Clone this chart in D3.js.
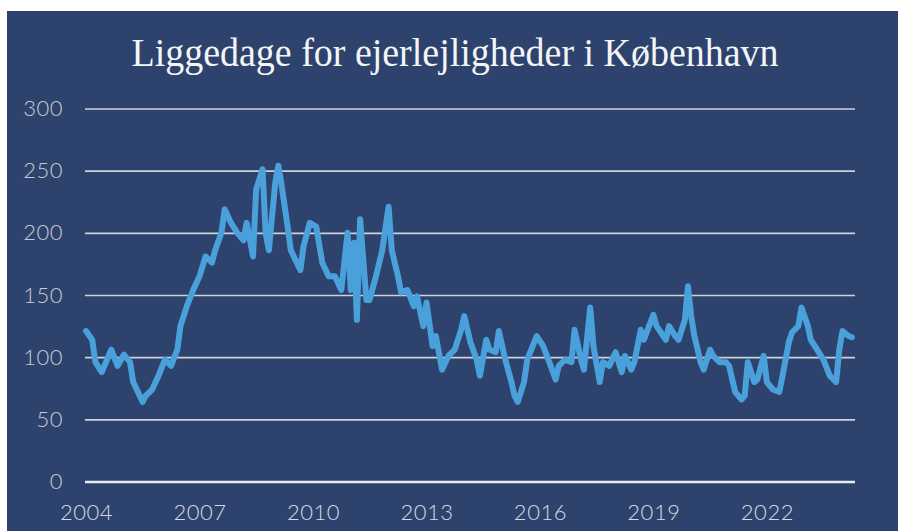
<!DOCTYPE html>
<html>
<head>
<meta charset="utf-8">
<script src="https://cdn.jsdelivr.net/npm/d3@7"></script>
<style>
  html, body { margin: 0; padding: 0; background: #ffffff; }
  svg { display: block; }
</style>
</head>
<body>
<svg id="chart"></svg>
<script>
// Liggedage (days on market) for owner-occupied flats, Copenhagen
const title = 'Liggedage for ejerlejligheder i København';

const months = [
  '2004-01','2004-03','2004-04','2004-06','2004-09','2004-11','2005-01','2005-03','2005-04','2005-07',
  '2005-08','2005-10','2005-12','2006-02','2006-04','2006-06','2006-07','2006-09','2006-11','2007-01',
  '2007-03','2007-05','2007-06','2007-08','2007-09','2007-11','2008-01','2008-03','2008-04','2008-06',
  '2008-07','2008-09','2008-10','2008-11','2009-01','2009-02','2009-03','2009-05','2009-06','2009-09',
  '2009-10','2009-12','2010-02','2010-04','2010-06','2010-08','2010-10','2010-12','2011-01','2011-02',
  '2011-03','2011-04','2011-06','2011-07','2011-09','2011-11','2012-01','2012-02','2012-04','2012-05',
  '2012-07','2012-09','2012-10','2012-12','2013-01','2013-03','2013-04','2013-06','2013-08','2013-10',
  '2013-12','2014-01','2014-03','2014-05','2014-06','2014-08','2014-09','2014-11','2014-12','2015-02',
  '2015-04','2015-05','2015-06','2015-08','2015-09','2015-12','2016-02','2016-04','2016-06','2016-07',
  '2016-09','2016-11','2016-12','2017-02','2017-03','2017-05','2017-06','2017-08','2017-09','2017-11',
  '2018-01','2018-03','2018-04','2018-06','2018-07','2018-09','2018-10','2019-01','2019-02','2019-05',
  '2019-06','2019-08','2019-09','2019-11','2019-12','2020-01','2020-02','2020-04','2020-05','2020-07',
  '2020-08','2020-10','2020-12','2021-01','2021-03','2021-05','2021-06','2021-07','2021-09','2021-10',
  '2021-12','2022-01','2022-03','2022-05','2022-06','2022-08','2022-09','2022-11','2022-12','2023-02',
  '2023-03','2023-05','2023-07','2023-09','2023-11','2023-12','2024-01','2024-03','2024-04'
];

const days = [
  121, 114, 96, 88, 106, 93, 102, 96, 80, 64,
  69, 74, 85, 98, 93, 106, 125, 141, 154, 165,
  181, 176, 186, 200, 219, 208, 200, 194, 208, 181,
  235, 251, 200, 186, 240, 254, 240, 205, 186, 170,
  189, 208, 205, 176, 165, 165, 154, 200, 154, 192,
  130, 211, 146, 146, 165, 186, 221, 186, 165, 152,
  154, 141, 149, 125, 144, 109, 117, 90, 101, 106,
  122, 133, 112, 98, 85, 114, 106, 104, 121, 98,
  80, 69, 64, 80, 98, 117, 109, 96, 82, 93,
  98, 96, 122, 98, 90, 140, 109, 80, 96, 93,
  104, 88, 101, 90, 96, 122, 114, 134, 125, 114,
  125, 117, 114, 130, 157, 133, 117, 96, 90, 106,
  101, 96, 96, 93, 72, 66, 69, 96, 80, 82,
  101, 80, 74, 72, 85, 112, 120, 125, 140, 125,
  114, 106, 98, 85, 80, 106, 121, 117, 116
];

const yTicks = [0, 50, 100, 150, 200, 250, 300];
const xTickYears = ['2004', '2007', '2010', '2013', '2016', '2019', '2022'];

const W = 898, H = 531;
const parseMonth = d3.timeParse('%Y-%m');
const parseYear = d3.timeParse('%Y');

const svg = d3.select('#chart').attr('width', W).attr('height', H);

// panel
svg.append('rect').attr('x', 7).attr('y', 11).attr('width', W - 7).attr('height', H - 11)
  .attr('fill', '#2d436d');

// scales
const x = d3.scaleTime()
  .domain([parseMonth('2004-01'), parseMonth('2024-05')])
  .range([86, 855]);
const y = d3.scaleLinear().domain([0, 300]).range([481.5, 108.5]);

// gridlines
const grid = svg.append('g')
  .attr('transform', 'translate(85,0)')
  .call(d3.axisLeft(y).tickValues(yTicks).tickSize(-770).tickFormat(''));
grid.select('.domain').remove();
grid.selectAll('.tick line')
  .attr('stroke', d => d === 0 ? '#e8ebf0' : '#cdd2da')
  .attr('stroke-width', d => d === 0 ? 2.5 : 1.6);

const labelStyle = sel => sel
  .style('font-family', 'Lato, "Open Sans", sans-serif')
  .style('font-weight', 300)
  .style('font-size', '22px')
  .style('letter-spacing', '0.5px');

// y labels
const yAxis = svg.append('g')
  .attr('transform', 'translate(63,0)')
  .call(d3.axisLeft(y).tickValues(yTicks).tickSize(0).tickPadding(0));
yAxis.select('.domain').remove();
yAxis.selectAll('text').attr('fill', '#c6cbd5').call(labelStyle);

// x labels
const xAxis = svg.append('g')
  .attr('transform', 'translate(0,481.5)')
  .call(d3.axisBottom(x).tickValues(xTickYears.map(parseYear)).tickSize(0).tickPadding(23)
    .tickFormat(d3.timeFormat('%Y')));
xAxis.select('.domain').remove();
xAxis.selectAll('text').attr('fill', '#d6dae2').call(labelStyle);

// line
const points = months.map((m, i) => ({ date: parseMonth(m), value: days[i] }));
const line = d3.line().x(d => x(d.date)).y(d => y(d.value));
svg.append('path')
  .datum(points)
  .attr('d', line)
  .attr('fill', 'none')
  .attr('stroke', '#49a0da')
  .attr('stroke-width', 6)
  .attr('stroke-linejoin', 'round')
  .attr('stroke-linecap', 'round');

// title
svg.append('text')
  .attr('x', 455).attr('y', 66)
  .attr('text-anchor', 'middle')
  .attr('fill', '#f4f5f7')
  .attr('textLength', 647)
  .attr('lengthAdjust', 'spacingAndGlyphs')
  .style('font-family', '"Liberation Serif", "DejaVu Serif", serif')
  .style('font-size', '40px')
  .text(title);
</script>
</body>
</html>
